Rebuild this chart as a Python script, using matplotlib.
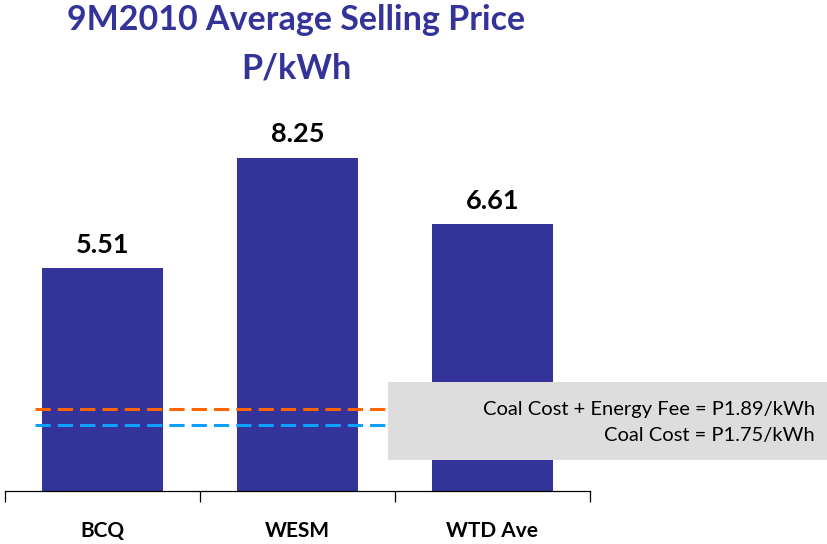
import matplotlib
matplotlib.use("Agg")
import matplotlib.pyplot as plt
from matplotlib.patches import Rectangle

categories = ["BCQ", "WESM", "WTD Ave"]
values = [5.51, 8.25, 6.61]
value_labels = ["5.51", "8.25", "6.61"]
ref_levels = [2.03, 1.63]          # drawn positions of the dashed lines
ref_colors = ["#FF6600", "#0FA0FF"]
ref_texts = ["Coal Cost + Energy Fee = P1.89/kWh", "Coal Cost = P1.75/kWh"]
title_lines = ["9M2010 Average Selling Price", "P/kWh"]

plt.rcParams['font.family'] = ['Lato', 'DejaVu Sans']

W, H = 827, 544
fig = plt.figure(figsize=(W / 100, H / 100), dpi=100)
ax = fig.add_axes([5 / W, 53 / H, 585 / W, 404 / H])
ax.set_xlim(-0.5, 2.5)
ax.set_ylim(0, 10)

x = range(len(categories))
ax.bar(x, values, width=0.625, color="#333399", zorder=2)
for xi, v, lab in zip(x, values, value_labels):
    ax.text(xi, v + 0.28, lab, ha="center", va="bottom", fontsize=19.5,
            fontweight="bold", color="black")

x0 = -0.5 + 30 / 195
x1 = -0.5 + 383 / 195
for lvl, col in zip(ref_levels, ref_colors):
    ax.hlines(lvl, x0, x1, colors=col, linewidth=2.2, linestyles=(0, (5, 2.3)), zorder=3)

for s in ["top", "right", "left"]:
    ax.spines[s].set_visible(False)
ax.spines["bottom"].set_color("#000000")
ax.spines["bottom"].set_linewidth(0.9)
ax.set_yticks([])
ax.set_xticks([-0.5, 0.5, 1.5, 2.5], minor=False)
ax.set_xticklabels([])
ax.tick_params(axis="x", direction="out", length=8, width=0.9, color="black")
for xi, c in zip(x, categories):
    ax.text(xi, -0.98, c, ha="center", va="center", fontsize=15,
            fontweight="bold", transform=ax.transData, clip_on=False)

# gray annotation box in figure coords
box = Rectangle((388 / W, 1 - 460 / H), (827 - 388) / W, (460 - 382) / H,
                transform=fig.transFigure, facecolor="#DDDDDD", edgecolor="none", zorder=5)
fig.patches.append(box)
fig.text(815 / W, 1 - 409 / H, ref_texts[0], ha="right", va="center", fontsize=14.5,
         color="black", zorder=6)
fig.text(815 / W, 1 - 436 / H, ref_texts[1], ha="right", va="center", fontsize=14.5,
         color="black", zorder=6)

fig.text(296 / W, 1 - 20 / H, title_lines[0], ha="center", va="center", fontsize=24.5,
         fontweight="bold", color="#333399")
fig.text(296 / W, 1 - 68 / H, title_lines[1], ha="center", va="center", fontsize=24.5,
         fontweight="bold", color="#333399")

fig.savefig("out.png", dpi=100)
